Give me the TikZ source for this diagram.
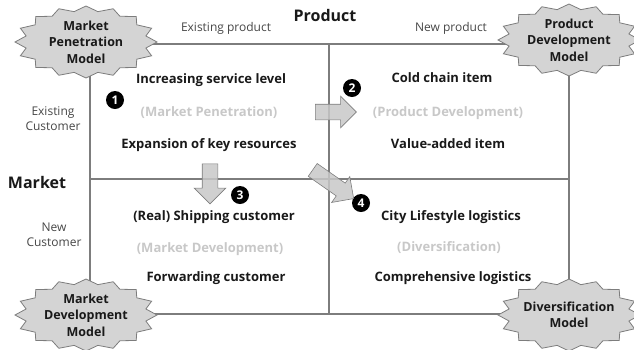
\documentclass[tikz,border=0pt]{standalone}
\usepackage{fontspec}
\setmainfont{Open Sans}
\usetikzlibrary{shapes.arrows}

\definecolor{gridline}{RGB}{125,125,125}
\definecolor{badgefill}{RGB}{212,212,212}
\definecolor{arrowfill}{RGB}{200,200,200}
\definecolor{faint}{RGB}{200,200,200}
\definecolor{ink}{RGB}{25,25,25}
\definecolor{label}{RGB}{70,70,70}

\begin{document}
\begin{tikzpicture}[x=1pt, y=-1pt,
				badge/.pic={
					\draw[draw=gridline, fill=badgefill, line width=0.8pt]
						plot[domain=0:31, samples=32, variable=\k]
						({71*(1-0.14*mod(\k,2))*cos(\k*360/32)}, {36*(1-0.14*mod(\k,2))*sin(\k*360/32)}) -- cycle;
				},
				badgetext/.style={align=center, text=ink, inner sep=0pt, font=\bfseries\fontsize{12.5}{16.5}\selectfont},
				item/.style={font=\bfseries\fontsize{13}{15}\selectfont, text=ink},
				hint/.style={font=\bfseries\fontsize{13}{15}\selectfont, text=faint},
				axis/.style={font=\fontsize{12}{15}\selectfont, text=label, align=center},
				title/.style={font=\bfseries\fontsize{16}{18}\selectfont, text=ink},
				num/.style={circle, fill=black, text=white, inner sep=0pt, minimum size=18pt, font=\bfseries\fontsize{12}{12}\selectfont},
				blockarrow/.style={single arrow, draw=gridline, fill=arrowfill, fill opacity=0.85, line width=0.6pt,
					inner xsep=0pt, inner ysep=7.5pt, single arrow head extend=8pt, single arrow head indent=0pt}
			]
			\useasboundingbox (0,0) rectangle (634,349);
			% frame of the matrix
			\coordinate (tl) at (90,44);
			\coordinate (br) at (569,314);
			\coordinate (mt) at (329,44);
			\coordinate (mb) at (329,314);
			\coordinate (ml) at (90,179);
			\coordinate (mr) at (569,179);
			\draw[gridline, line width=1.2pt] (tl) rectangle (br);
			\draw[gridline, line width=1.2pt] (mt) -- (mb);
			\draw[gridline, line width=1.2pt] (ml) -- (mr);
			% axis labels
			\node[title] (product) at (325,15) {Product};
			\node[title] (market) at (37,182) {Market};
			\node[axis] (oldprod) at (226,28) {Existing product};
			\node[axis] (newprod) at (451,28) {New product};
			\node[axis] (oldcust) at (53,119) {Existing\\Customer};
			\node[axis] (newcust) at (54,235) {New\\Customer};
			% quadrant contents
			\node[item] (q1a) at (211,80) {Increasing service level};
			\node[hint] (q1b) at (209,113) {(Market Penetration)};
			\node[item] (q1c) at (209,145) {Expansion of key resources};
			\node[item] (q2a) at (442,78) {Cold chain item};
			\node[hint] (q2b) at (448,113) {(Product Development)};
			\node[item] (q2c) at (448,144) {Value-added item};
			\node[item] (q3a) at (214,217) {(Real) Shipping customer};
			\node[hint] (q3b) at (210,249) {(Market Development)};
			\node[item] (q3c) at (216,278) {Forwarding customer};
			\node[item] (q4a) at (451,217) {City Lifestyle logistics};
			\node[hint] (q4b) at (449,248) {(Diversification)};
			\node[item] (q4c) at (453,278) {Comprehensive logistics};
			% numbers
			\node[num] (n1) at (115,100) {1};
			\node[num] (n2) at (352,88) {2};
			\node[num] (n3) at (240,195) {3};
			\node[num] (n4) at (361,203) {4};
			% block arrows
			\node[blockarrow, minimum height=41pt] (toq2) at (332,112) {};
			\node[blockarrow, minimum height=40pt, rotate=-90] (toq3) at (210,180) {};
			\node[blockarrow, minimum height=50pt, rotate=-35] (toq4) at (330,182) {};
			% corner models
			\pic at (86,42) {badge};
			\pic at (569,40) {badge};
			\pic at (86,315) {badge};
			\pic at (569,315) {badge};
			\node[badgetext] (pen) at (86,42) {Market\\Penetration\\Model};
			\node[badgetext] (prod) at (569,40) {Product\\Development\\Model};
			\node[badgetext] (dev) at (86,315) {Market\\Development\\Model};
			\node[badgetext] (div) at (569,315) {Diversification\\Model};
		\end{tikzpicture}
\end{document}
